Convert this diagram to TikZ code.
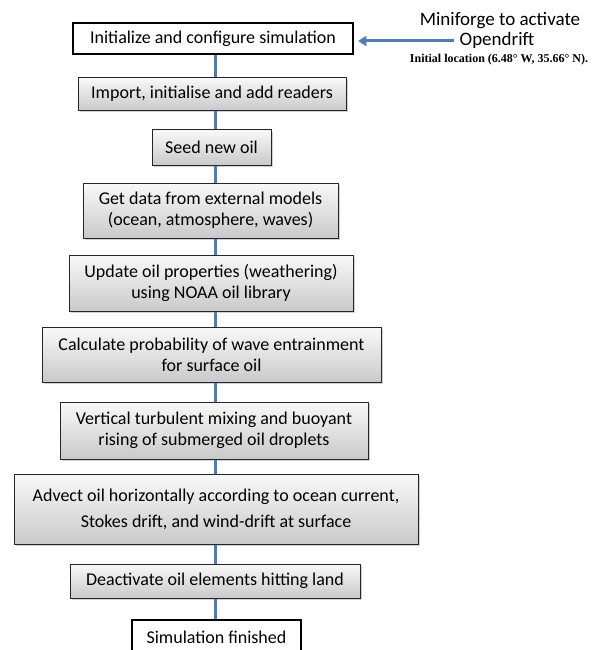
\documentclass[tikz,border=0pt]{standalone}
\usepackage{fontspec}
\setmainfont{Carlito}
\newfontfamily\timesf{Liberation Serif}
\usetikzlibrary{shadows,arrows.meta}
\definecolor{connblue}{HTML}{4A7EBB}
\begin{document}
\begin{tikzpicture}[x=1pt,y=1pt,
  stepbox/.style={draw=black!85, line width=1pt, top color=gray!5, bottom color=gray!42,
    drop shadow={shadow xshift=1.5pt, shadow yshift=-1.5pt, opacity=0.35},
    align=center, inner sep=0pt, font=\fontsize{18}{21}\selectfont},
  endbox/.style={draw=black, line width=2.5pt, fill=white, inner sep=0pt,
    align=center, font=\fontsize{18}{21}\selectfont},
  conn/.style={draw=connblue, line width=3pt},
  arr/.style={draw=connblue, line width=3pt, -{Triangle[length=8pt,width=10pt]}},
  lbl/.style={inner sep=0pt, font=\fontsize{19}{21}\selectfont}]
\path[use as bounding box, clip] (0,0) rectangle (592,-650);
\fill[white] (0,0) rectangle (592,-650);
\coordinate (axis) at (215,0);

\node[endbox, minimum width=280pt, minimum height=31pt] (init) at (213,-38.5) {Initialize and configure simulation};
\node[stepbox, minimum width=268pt, minimum height=33pt] (import) at (212,-94) {Import, initialise and add readers};
\node[stepbox, minimum width=119pt, minimum height=35pt] (seed) at (211.5,-147.5) {Seed new oil};
\node[stepbox, minimum width=255pt, minimum height=55pt] (getdata) at (210.5,-210.5) {Get data from external models\\(ocean, atmosphere, waves)};
\node[stepbox, minimum width=284pt, minimum height=56pt] (update) at (211,-283) {Update oil properties (weathering)\\using NOAA oil library};
\node[stepbox, minimum width=339pt, minimum height=55pt] (calc) at (211.5,-354.5) {Calculate probability of wave entrainment\\for surface oil};
\node[stepbox, minimum width=308pt, minimum height=57pt] (vert) at (214,-430.5) {Vertical turbulent mixing and buoyant\\rising of submerged oil droplets};
\node[stepbox, minimum width=404pt, minimum height=70pt] (advect) at (216,-509) {Advect oil horizontally according to ocean current,\\[5pt]Stokes drift, and wind-drift at surface};
\node[stepbox, minimum width=290pt, minimum height=34pt] (deact) at (215,-581) {Deactivate oil elements hitting land};
\node[endbox, minimum width=169pt, minimum height=34pt] (finish) at (216.5,-637) {Simulation finished};

\draw[conn] (init.south -| axis) -- (import.north -| axis);
\draw[conn] (import.south -| axis) -- (seed.north -| axis);
\draw[conn] (seed.south -| axis) -- (getdata.north -| axis);
\draw[conn] (getdata.south -| axis) -- (update.north -| axis);
\draw[conn] (update.south -| axis) -- (calc.north -| axis);
\draw[conn] (calc.south -| axis) -- (vert.north -| axis);
\draw[conn] (vert.south -| axis) -- (advect.north -| axis);
\draw[conn] (advect.south -| axis) -- (deact.north -| axis);
\draw[conn] (deact.south -| axis) -- (finish.north -| axis);

\node[lbl] (mini) at (500,-21) {Miniforge to activate};
\node[lbl] (opend) at (497,-40) {Opendrift};
\node[inner sep=0pt, font=\timesf\bfseries\fontsize{12}{14}\selectfont] (loc) at (499,-60) {Initial location (6.48° W, 35.66° N).};
\coordinate (tail) at (454,-41);
\draw[arr] (tail) -- ([xshift=4pt]init.east |- tail);
\end{tikzpicture}
\end{document}
